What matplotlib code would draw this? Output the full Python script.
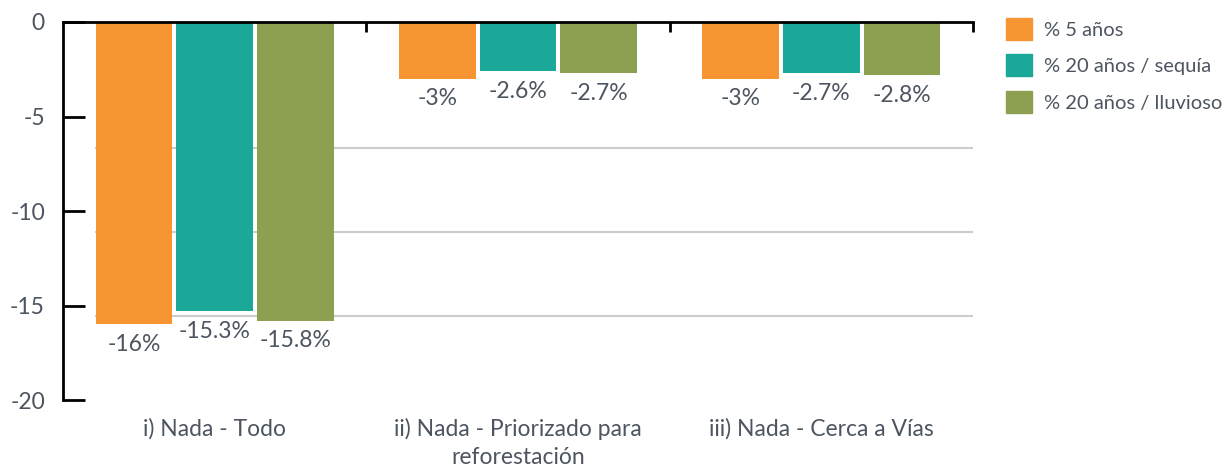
import matplotlib.pyplot as plt
import numpy as np

plt.rcParams['font.family'] = ['Lato', 'DejaVu Sans']

categories = ["i) Nada - Todo", "ii) Nada - Priorizado para\nreforestación", "iii) Nada - Cerca a Vías"]
series_names = ["% 5 años", "% 20 años / sequía", "% 20 años / lluvioso"]
cinco = [-16, -3, -3]
sequia = [-15.3, -2.6, -2.7]
lluvioso = [-15.8, -2.7, -2.8]
labels_5 = ["-16%", "-3%", "-3%"]
labels_seq = ["-15.3%", "-2.6%", "-2.7%"]
labels_llu = ["-15.8%", "-2.7%", "-2.8%"]
y_ticks = [0, -5, -10, -15, -20]
grid_vals = [-6.67, -11.11, -15.56, -20.1]

colors = ["#f69532", "#1ca898", "#8da052"]
text_col = "#4d5560"

fig = plt.figure(figsize=(12.3, 4.67), dpi=100)
ax = fig.add_axes([63 / 1230, 1 - 400 / 467, 910 / 1230, 378 / 467])

x = np.arange(len(categories))
w = 0.253
step = 0.266
series = [cinco, sequia, lluvioso]
labs = [labels_5, labels_seq, labels_llu]

for g in grid_vals:
    ax.axhline(g, xmin=(96 - 63) / 910, xmax=1, color="#cccccc", lw=1.5, zorder=0)

for i, (vals, lab, col, name) in enumerate(zip(series, labs, colors, series_names)):
    xs = x + (i - 1) * step
    ax.bar(xs, vals, width=w, color=col, label=name, zorder=2)
    for xi, v, t in zip(xs, vals, lab):
        ax.annotate(t, (xi, v), xytext=(0, -7), textcoords="offset points",
                    ha="center", va="top", fontsize=16.5, color=text_col)

ax.set_xlim(-0.5, 2.5)
ax.set_ylim(-20, 0)
ax.set_yticks(y_ticks)
ax.set_yticklabels([str(t) for t in y_ticks], fontsize=16.5, color=text_col)
ax.tick_params(axis="y", direction="in", length=16, width=2, color="black", pad=13)

# category labels at the bottom, boundary ticks on the top axis
ax.set_xticks([0.5, 1.5, 2.5])
ax.set_xticklabels([])
ax.xaxis.set_ticks_position("top")
ax.tick_params(axis="x", direction="in", length=7, width=2, color="black")
for xi, c in zip(x, categories):
    ax.text(xi, -20.95, c, ha="center", va="top", fontsize=16.5, color=text_col,
            linespacing=1.4)

for s in ["right", "bottom"]:
    ax.spines[s].set_visible(False)
ax.spines["top"].set_linewidth(2)
ax.spines["left"].set_linewidth(2)

handles = [plt.Rectangle((0, 0), 1, 1, color=c) for c in colors]
leg = fig.legend(handles, series_names, loc="upper left", bbox_to_anchor=(1006 / 1230, 1 - 18 / 467),
                 frameon=False, fontsize=14.5, handlelength=1.3, handleheight=1.3,
                 handletextpad=0.6, labelspacing=0.72, labelcolor=text_col,
                 borderpad=0, borderaxespad=0)

fig.savefig("out.png", dpi=100)
